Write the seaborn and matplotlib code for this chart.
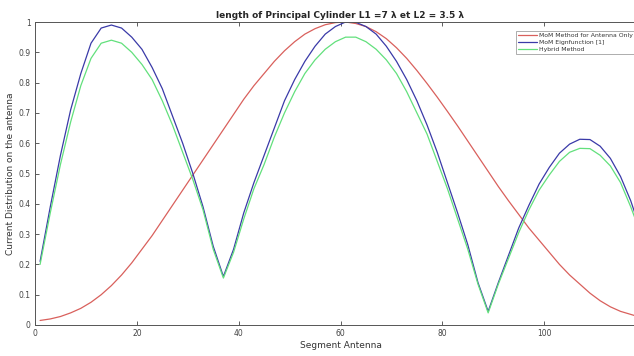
import numpy as np
import pandas as pd
import seaborn as sns
import matplotlib.pyplot as plt

# -------------- DONNEES -------------------#

segments = [1, 3, 5, 7, 9, 11, 13, 15, 17, 19, 21, 23, 25, 27, 29, 31, 33, 35, 37, 39,
            41, 43, 45, 47, 49, 51, 53, 55, 57, 59, 61, 63, 65, 67, 69, 71, 73, 75, 77, 79,
            81, 83, 85, 87, 89, 91, 93, 95, 97, 99, 101, 103, 105, 107, 109, 111, 113, 115, 117, 118]

mom_antenne = [0.015, 0.02, 0.028, 0.04, 0.055, 0.075, 0.10, 0.13, 0.165, 0.205, 0.25, 0.295, 0.345, 0.395, 0.445,
               0.495, 0.545, 0.595, 0.645, 0.695, 0.745, 0.79, 0.83, 0.87, 0.905, 0.935, 0.96, 0.978, 0.991, 0.998,
               1.0, 0.995, 0.985, 0.968, 0.945, 0.915, 0.88, 0.84, 0.797, 0.752, 0.705, 0.657, 0.607, 0.557, 0.507,
               0.457, 0.41, 0.365, 0.32, 0.28, 0.24, 0.20, 0.165, 0.135, 0.105, 0.08, 0.06, 0.045, 0.035, 0.03]

mom_eigen = [0.21, 0.39, 0.56, 0.71, 0.83, 0.93, 0.98, 0.99, 0.98, 0.95, 0.91, 0.85, 0.78, 0.69, 0.60,
             0.50, 0.39, 0.26, 0.16, 0.25, 0.37, 0.47, 0.56, 0.65, 0.74, 0.81, 0.87, 0.92, 0.96, 0.985,
             1.0, 0.999, 0.985, 0.96, 0.92, 0.87, 0.81, 0.74, 0.66, 0.57, 0.47, 0.37, 0.265, 0.14, 0.045,
             0.14, 0.23, 0.32, 0.395, 0.465, 0.52, 0.567, 0.597, 0.613, 0.612, 0.59, 0.55, 0.49, 0.41, 0.36]

hybride = [0.20, 0.37, 0.53, 0.67, 0.79, 0.88, 0.93, 0.94, 0.93, 0.90, 0.86, 0.81, 0.74, 0.66, 0.57,
           0.48, 0.38, 0.25, 0.155, 0.24, 0.35, 0.45, 0.53, 0.62, 0.70, 0.77, 0.83, 0.875, 0.91, 0.935,
           0.95, 0.95, 0.935, 0.91, 0.875, 0.83, 0.77, 0.70, 0.63, 0.54, 0.45, 0.35, 0.25, 0.135, 0.04,
           0.135, 0.22, 0.305, 0.38, 0.445, 0.495, 0.54, 0.57, 0.583, 0.582, 0.56, 0.525, 0.47, 0.39, 0.345]

labels = ['MoM Method for Antenna Only', 'MoM Eignfunction [1]', 'Hybrid Method']
couleurs = ['#d9605c', '#3a3aa8', '#62e07c']

# -------------- GRAPHIQUE -------------------#

sns.set_theme(style='ticks')
plt.rcParams['font.family'] = ['DejaVu Sans']

df = pd.concat([
    pd.DataFrame({'x': segments, 'y': serie, 'serie': lab})
    for serie, lab in zip([mom_antenne, mom_eigen, hybride], labels)
])

fig = plt.figure(figsize=(6.34, 3.56), dpi=100)
ax = fig.add_axes([35 / 634, 1 - 325 / 356, 611 / 634, 303 / 356])

sns.lineplot(data=df, x='x', y='y', hue='serie', palette=couleurs, sort=False,
             estimator=None, linewidth=0.9, ax=ax)

ax.set_xlim(0, 120)
ax.set_ylim(0, 1)
ax.set_xticks([0, 20, 40, 60, 80, 100])
ax.set_yticks(np.arange(0, 1.01, 0.1))
ax.set_yticklabels(['0', '0.1', '0.2', '0.3', '0.4', '0.5', '0.6', '0.7', '0.8', '0.9', '1'])
ax.tick_params(direction='in', top=True, right=True, labelsize=5.5, colors='#444444',
               length=3, width=0.6, pad=3)
for s in ax.spines.values():
    s.set_color('#555555')
    s.set_linewidth(0.7)

ax.set_xlabel('Segment Antenna', fontsize=6.5, color='#333333', labelpad=2)
ax.set_ylabel('Current Distribution on the antenna', fontsize=6.5, color='#333333', labelpad=3)
ax.set_title('length of Principal Cylinder L1 =7 \u03bb et L2 = 3.5 \u03bb',
             fontsize=6.5, fontweight='bold', pad=3)

leg = ax.legend(loc='upper left', bbox_to_anchor=(516 / 634, 1 - 31 / 356),
                bbox_transform=fig.transFigure, fontsize=4.4, frameon=True,
                fancybox=False, handlelength=3.2, borderpad=0.3, labelspacing=0.25,
                handletextpad=0.3, borderaxespad=0)
leg.get_frame().set_edgecolor('#888888')
leg.get_frame().set_linewidth(0.6)
for t in leg.get_texts():
    t.set_color('#333333')

fig.savefig('out.png', dpi=100)
